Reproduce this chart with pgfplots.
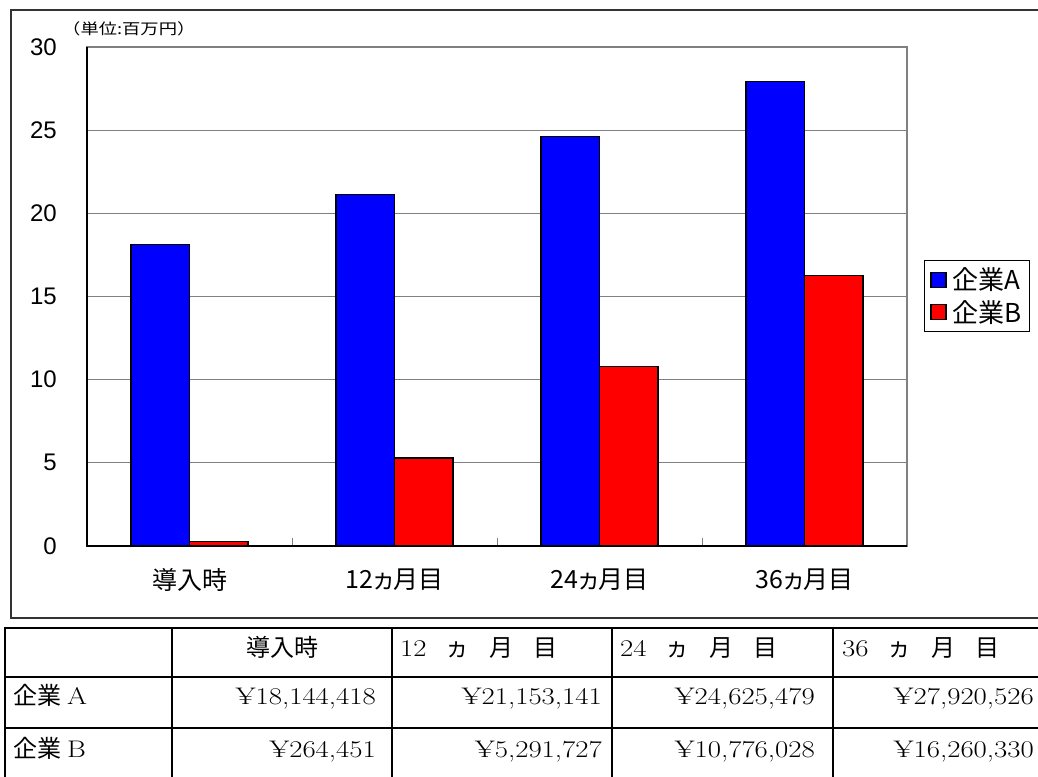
\documentclass[border=0pt]{standalone}
\usepackage{fontspec}
\usepackage{graphicx}
\usepackage{pgfplots}
\pgfplotsset{compat=1.18}
\newfontfamily\jp[RawFeature=+palt]{Noto Sans CJK JP}
\newfontfamily\jpm{Noto Sans CJK JP}
\newfontfamily\arial{Liberation Sans}
\definecolor{bblue}{RGB}{0,0,255}
\definecolor{rred}{RGB}{255,0,0}
\definecolor{framec}{RGB}{51,51,51}
\definecolor{gridgray}{RGB}{128,128,128}
\newcommand{\tnum}[1]{\scalebox{1.2}[1]{#1}}
\newcommand{\tf}{\fontsize{24}{24}\selectfont}
\newcommand{\hd}[1]{\tnum{#1}\hspace{19pt}{\jpm ヵ}\hspace{20pt}{\jpm 月}\hspace{20pt}{\jpm 目}}
\begin{document}
\begin{tikzpicture}[x=1pt,y=1pt]
\useasboundingbox (0pt,0pt) rectangle (1038pt,776pt);
\clip (0pt,0pt) rectangle (1038pt,776pt);
\draw[framec, line width=1.5pt] (11pt,766pt) rectangle (1060pt,158pt);
\node[anchor=west, inner sep=0pt, font=\jpm\fontsize{15}{16}\selectfont] at (62pt,747pt) {\scalebox{1.22}[1]{（単位:百万円）}};
\begin{axis}[
 at={(87pt,230pt)}, anchor=south west, scale only axis, width=820pt, height=499pt,
 ybar=0pt, bar width=58.5pt,
 xmin=-0.5, xmax=3.5, ymin=0, ymax=30,
 xtick={0,1,2,3}, xticklabels={導入時,12ヵ月目,24ヵ月目,36ヵ月目},
 minor xtick={0.5,1.5,2.5},
 ytick={0,5,...,30},
 major tick length=0pt, minor tick length=8pt, tick align=inside,
 xtick pos=bottom, ytick pos=left,
 minor tick style={gridgray, line width=1pt},
 ymajorgrids, major grid style={gridgray, line width=1pt},
 axis line style={gridgray, line width=1.2pt},
 clip=false,
 xticklabel style={font=\jp\fontsize{25}{25}\selectfont, anchor=center, yshift=-34pt, inner sep=0pt},
 yticklabel style={font=\arial\fontsize{24}{24}\selectfont, anchor=east, xshift=-30pt, inner sep=0pt},
 /pgf/number format/assume math mode=true,
 legend style={at={(1.0207,0.501)}, anchor=west, draw=black, line width=1pt, font=\jp\fontsize{26}{26}\selectfont, row sep=5pt, inner xsep=6pt, inner ysep=6pt},
 legend image code/.code={\draw[#1, line width=1.2pt] (3pt,-7.5pt) rectangle (18pt,7.5pt); \path (22pt,0pt);},
 legend cell align=left,
]
\addplot[fill=bblue, draw=black, line width=1.2pt] coordinates {(0,18.144418) (1,21.153141) (2,24.625479) (3,27.920526)};
\addplot[fill=rred, draw=black, line width=1.2pt] coordinates {(0,0.264451) (1,5.291727) (2,10.776028) (3,16.260330)};
\legend{企業A,企業B}
\draw[black, line width=1.5pt] (rel axis cs:0,1) -- (rel axis cs:0,0) -- (rel axis cs:1,0);
\end{axis}
\begin{scope}[line width=2pt]
\draw (5pt,148pt) -- (1060pt,148pt);
\draw (5pt,99pt) -- (1060pt,99pt);
\draw (5pt,48pt) -- (1060pt,48pt);
\foreach \xx in {5,172,392,612,833} {\draw (\xx pt,149pt) -- (\xx pt,-10pt);}
\end{scope}
\begin{scope}[every node/.style={inner sep=0pt, font=\tf}]
\node[anchor=base] at (282pt,119pt) {\jpm 導入時};
\node[anchor=base west] at (400pt,119pt) {\hd{12}};
\node[anchor=base west] at (620pt,119pt) {\hd{24}};
\node[anchor=base west] at (842pt,119pt) {\hd{36}};
\node[anchor=base west] at (13pt,71pt) {{\jpm 企業}\hspace{6pt}\tnum{A}};
\node[anchor=base west] at (13pt,19pt) {{\jpm 企業}\hspace{6pt}\tnum{B}};
\node[anchor=base east] at (376pt,71pt) {\tnum{¥18,144,418}};
\node[anchor=base east] at (602pt,71pt) {\tnum{¥21,153,141}};
\node[anchor=base east] at (815pt,71pt) {\tnum{¥24,625,479}};
\node[anchor=base east] at (1034pt,71pt) {\tnum{¥27,920,526}};
\node[anchor=base east] at (376pt,19pt) {\tnum{¥264,451}};
\node[anchor=base east] at (602pt,19pt) {\tnum{¥5,291,727}};
\node[anchor=base east] at (815pt,19pt) {\tnum{¥10,776,028}};
\node[anchor=base east] at (1034pt,19pt) {\tnum{¥16,260,330}};
\end{scope}
\end{tikzpicture}
\end{document}
